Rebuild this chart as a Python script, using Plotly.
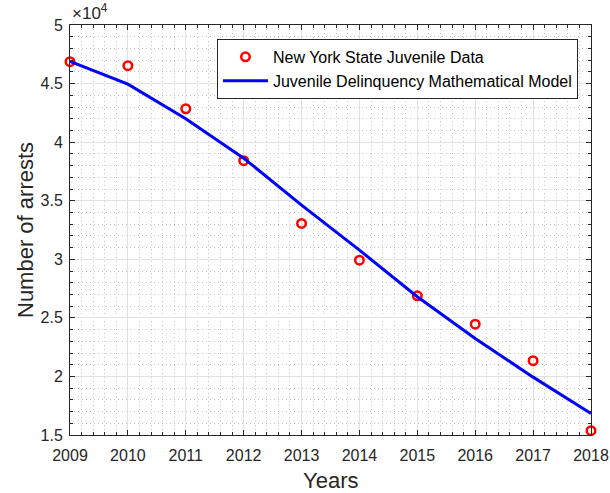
import plotly.graph_objects as go

years = [2009, 2010, 2011, 2012, 2013, 2014, 2015, 2016, 2017, 2018]
ny_data = [46870, 46530, 42850, 38420, 33060, 29920, 26880, 24460, 21340, 15370]
model = [46900, 44950, 42000, 38630, 34630, 30780, 26800, 23230, 19940, 16830]
y_tickvals = [15000, 20000, 25000, 30000, 35000, 40000, 45000, 50000]
y_ticktext = ["1.5", "2", "2.5", "3", "3.5", "4", "4.5", "5"]

FONT = "Liberation Sans, Arial, Helvetica, sans-serif"
TXT = "#262626"

fig = go.Figure()
fig.add_trace(go.Scatter(
    x=years, y=ny_data, mode="markers", name="New York State Juvenile Data",
    marker=dict(symbol="circle-open", size=8.5, color="#ff0000", line=dict(width=2.5, color="#ff0000")),
    cliponaxis=False,
))
fig.add_trace(go.Scatter(
    x=years, y=model, mode="lines", name="Juvenile Delinquency Mathematical Model",
    line=dict(color="#0000ff", width=3),
    cliponaxis=False,
))

axis_common = dict(
    showline=True, linecolor=TXT, linewidth=1, mirror="ticks",
    ticks="inside", ticklen=5, tickcolor=TXT, tickwidth=1,
    showgrid=True, gridcolor="#e2e2e2", gridwidth=1,
    zeroline=False, automargin=False,
    tickfont=dict(family=FONT, size=16, color=TXT),
)

fig.update_xaxes(
    range=[2009, 2018], tickvals=years, ticktext=[str(y) for y in years],
    ticklabelstandoff=6,
    minor=dict(dtick=0.2, tick0=2009, showgrid=True, gridcolor="#c8c8c8", griddash="1px,3px",
               ticks="inside", ticklen=3, tickcolor=TXT, gridwidth=1),
    **axis_common,
)
fig.update_yaxes(
    range=[15000, 50000], tickvals=y_tickvals, ticktext=y_ticktext,
    ticklabelstandoff=3,
    minor=dict(dtick=1000, tick0=15000, showgrid=True, gridcolor="#c8c8c8", griddash="1px,3px",
               ticks="inside", ticklen=3, tickcolor=TXT, gridwidth=1),
    **axis_common,
)

fig.update_layout(
    width=610, height=493,
    margin=dict(l=70, r=19, t=25, b=58),
    paper_bgcolor="white", plot_bgcolor="white",
    font=dict(family=FONT, color=TXT),
    showlegend=True,
    legend=dict(
        x=0.975, y=0.966, xanchor="right", yanchor="top",
        bgcolor="white", bordercolor=TXT, borderwidth=1,
        font=dict(family=FONT, size=16, color="#000000"),
        itemwidth=45, tracegroupgap=0,
    ),
    annotations=[
        dict(text="×10<sup>4</sup>", xref="paper", yref="paper", x=0, y=1,
             xanchor="left", yanchor="bottom", showarrow=False, yshift=0,
             font=dict(family=FONT, size=17, color=TXT)),
        dict(text="Years", xref="paper", yref="paper", x=0.5, y=0,
             xanchor="center", yanchor="middle", showarrow=False, yshift=-45,
             font=dict(family=FONT, size=22, color=TXT)),
        dict(text="Number of arrests", xref="paper", yref="paper", x=0, y=0.5,
             xanchor="center", yanchor="middle", showarrow=False, xshift=-45, textangle=-90,
             font=dict(family=FONT, size=22, color=TXT)),
    ],
)

fig.write_html("out.html")
